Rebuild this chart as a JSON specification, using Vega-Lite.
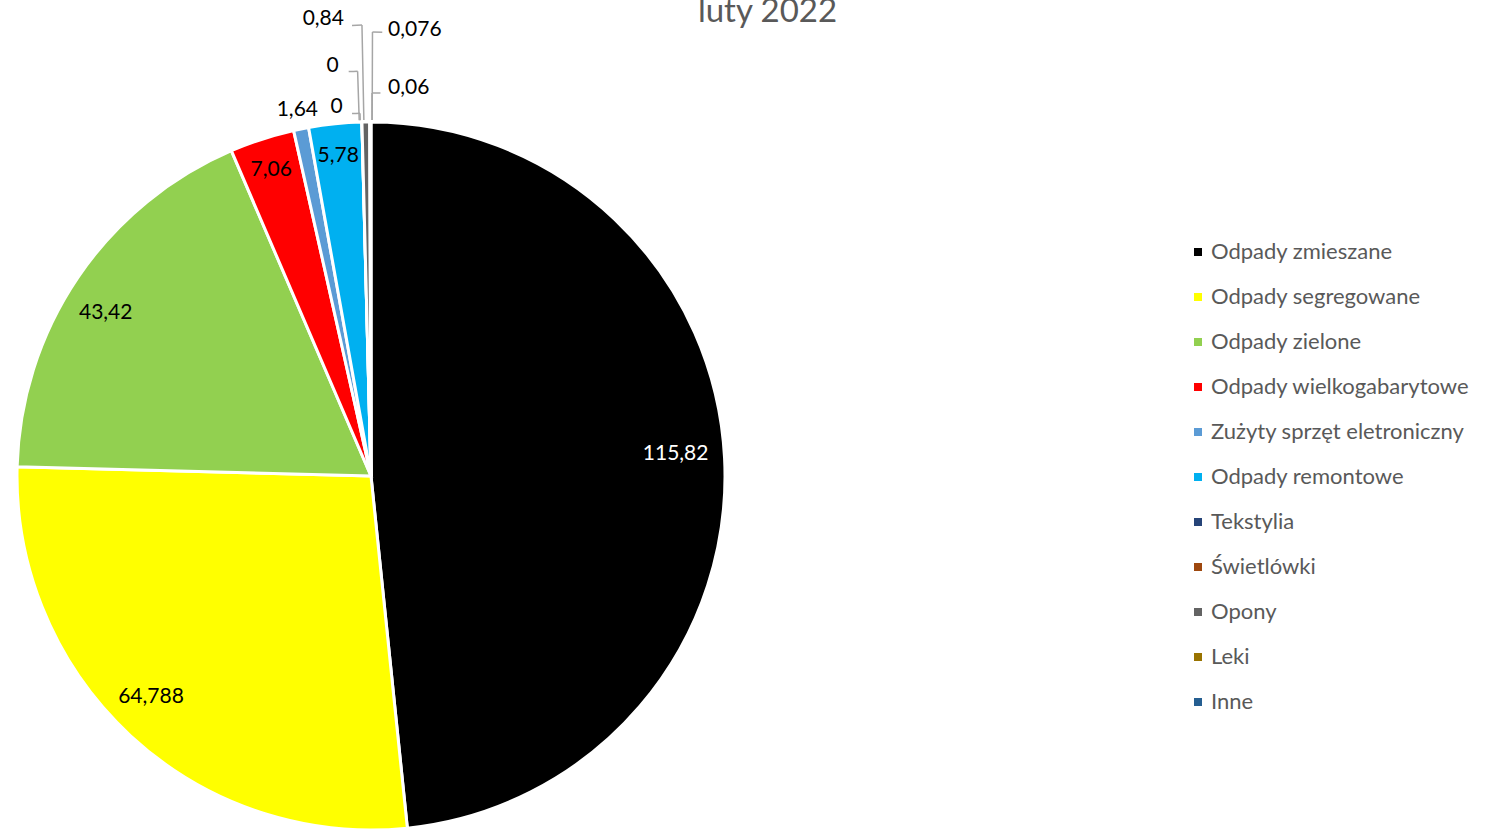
{
  "$schema": "https://vega.github.io/schema/vega-lite/v6.json",
  "width": 1495,
  "height": 832,
  "autosize": "none",
  "padding": 0,
  "background": "white",
  "config": {"view": {"stroke": null}, "font": "Lato"},
  "title": {"text": "luty 2022", "anchor": "middle", "orient": "top", "offset": -55, "baseline": "alphabetic", "dx": 20, "fontSize": 33, "fontWeight": "normal", "color": "#595959", "font": "Lato"},
  "data": {"values": [
    {"i": 1, "k": "Odpady zmieszane", "v": 115.82, "lbl": "115,82"},
    {"i": 2, "k": "Odpady segregowane", "v": 64.788, "lbl": "64,788"},
    {"i": 3, "k": "Odpady zielone", "v": 43.42, "lbl": "43,42"},
    {"i": 4, "k": "Odpady wielkogabarytowe", "v": 7.06, "lbl": "7,06"},
    {"i": 5, "k": "Zużyty sprzęt eletroniczny", "v": 1.64, "lbl": "1,64"},
    {"i": 6, "k": "Odpady remontowe", "v": 5.78, "lbl": "5,78"},
    {"i": 7, "k": "Tekstylia", "v": 0, "lbl": "0"},
    {"i": 8, "k": "Świetlówki", "v": 0, "lbl": "0"},
    {"i": 9, "k": "Opony", "v": 0.84, "lbl": "0,84"},
    {"i": 10, "k": "Leki", "v": 0.076, "lbl": "0,076"},
    {"i": 11, "k": "Inne", "v": 0.06, "lbl": "0,06"}
  ]},
  "encoding": {
    "theta": {"field": "v", "type": "quantitative", "stack": true},
    "order": {"field": "i", "type": "quantitative"}
  },
  "layer": [
    {
      "mark": {"type": "arc", "x": 371, "y": 476, "outerRadius": 354, "stroke": "white", "strokeWidth": 3},
      "encoding": {
        "color": {"field": "k", "type": "nominal", "sort": {"field": "i"},
          "scale": {"domain": ["Odpady zmieszane", "Odpady segregowane", "Odpady zielone", "Odpady wielkogabarytowe", "Zużyty sprzęt eletroniczny", "Odpady remontowe", "Tekstylia", "Świetlówki", "Opony", "Leki", "Inne"],
                    "range": ["#000000", "#FFFF00", "#92D050", "#FF0000", "#5B9BD5", "#00B0F0", "#264478", "#9E480E", "#636363", "#997300", "#255E91"]},
          "legend": {"title": null, "orient": "none", "legendX": 1187, "legendY": 241, "symbolType": "square", "symbolSize": 64, "symbolStrokeWidth": 0, "labelFontSize": 22, "labelFont": "Lato", "labelColor": "#595959", "labelOffset": 2, "rowPadding": 23, "padding": 0, "labelLimit": 400}
        }
      }
    },
    {
      "mark": {"type": "arc", "x": 371, "y": 476, "innerRadius": 356, "outerRadius": 451, "thetaOffset": 0.00555, "fill": null, "stroke": "#A6A6A6", "strokeWidth": 1.5},
      "encoding": {"strokeOpacity": {"condition": {"test": "datum.i == 7", "value": 1}, "value": 0}}
    },
    {
      "mark": {"type": "arc", "x": 371, "y": 476, "innerRadius": 356, "outerRadius": 405, "thetaOffset": -0.00747, "fill": null, "stroke": "#A6A6A6", "strokeWidth": 1.5},
      "encoding": {"strokeOpacity": {"condition": {"test": "datum.i == 7", "value": 1}, "value": 0}}
    },
    {
      "mark": {"type": "arc", "x": 371, "y": 476, "innerRadius": 356, "outerRadius": 363, "thetaOffset": -0.00468, "fill": null, "stroke": "#A6A6A6", "strokeWidth": 1.5},
      "encoding": {"strokeOpacity": {"condition": {"test": "datum.i == 7", "value": 1}, "value": 0}}
    },
    {
      "mark": {"type": "arc", "x": 371, "y": 476, "innerRadius": 356, "outerRadius": 444, "thetaOffset": 0.02893, "fill": null, "stroke": "#A6A6A6", "strokeWidth": 1.5},
      "encoding": {"strokeOpacity": {"condition": {"test": "datum.i == 7", "value": 1}, "value": 0}}
    },
    {
      "mark": {"type": "arc", "x": 371, "y": 476, "innerRadius": 356, "outerRadius": 383, "thetaOffset": 0.02823, "fill": null, "stroke": "#A6A6A6", "strokeWidth": 1.5},
      "encoding": {"strokeOpacity": {"condition": {"test": "datum.i == 7", "value": 1}, "value": 0}}
    },
    {
      "mark": {"type": "arc", "x": 371, "y": 476, "innerRadius": 451, "outerRadius": 451, "thetaOffset": -0.01649, "fill": null, "stroke": "#A6A6A6", "strokeWidth": 1.5},
      "encoding": {"strokeOpacity": {"condition": {"test": "datum.i == 9", "value": 1}, "value": 0}}
    },
    {
      "mark": {"type": "arc", "x": 371, "y": 476, "innerRadius": 405, "outerRadius": 405, "thetaOffset": -0.02951, "fill": null, "stroke": "#A6A6A6", "strokeWidth": 1.5},
      "encoding": {"strokeOpacity": {"condition": {"test": "datum.i == 9", "value": 1}, "value": 0}}
    },
    {
      "mark": {"type": "arc", "x": 371, "y": 476, "innerRadius": 363, "outerRadius": 363, "thetaOffset": -0.02672, "fill": null, "stroke": "#A6A6A6", "strokeWidth": 1.5},
      "encoding": {"strokeOpacity": {"condition": {"test": "datum.i == 9", "value": 1}, "value": 0}}
    },
    {
      "mark": {"type": "arc", "x": 371, "y": 476, "innerRadius": 444, "outerRadius": 444, "thetaOffset": 0.02893, "fill": null, "stroke": "#A6A6A6", "strokeWidth": 1.5},
      "encoding": {"strokeOpacity": {"condition": {"test": "datum.i == 9", "value": 1}, "value": 0}}
    },
    {
      "mark": {"type": "arc", "x": 371, "y": 476, "innerRadius": 383, "outerRadius": 383, "thetaOffset": 0.02823, "fill": null, "stroke": "#A6A6A6", "strokeWidth": 1.5},
      "encoding": {"strokeOpacity": {"condition": {"test": "datum.i == 9", "value": 1}, "value": 0}}
    },
    {
      "mark": {"type": "text", "x": 371, "y": 476, "radius": 305, "dy": -6, "fontSize": 21, "color": "white"},
      "encoding": {"text": {"condition": {"test": "datum.i == 1", "field": "lbl"}, "value": ""}}
    },
    {
      "mark": {"type": "text", "x": 371, "y": 476, "radius": 312, "dx": -8, "dy": -8, "fontSize": 21, "color": "black"},
      "encoding": {"text": {"condition": {"test": "datum.i == 2", "field": "lbl"}, "value": ""}}
    },
    {
      "mark": {"type": "text", "x": 371, "y": 476, "radius": 312, "dx": -7, "dy": 12, "fontSize": 21, "color": "black"},
      "encoding": {"text": {"condition": {"test": "datum.i == 3", "field": "lbl"}, "value": ""}}
    },
    {
      "mark": {"type": "text", "x": 371, "y": 476, "radius": 324, "dy": 2, "fontSize": 21, "color": "black"},
      "encoding": {"text": {"condition": {"test": "datum.i == 4 || datum.i == 6", "field": "lbl"}, "value": ""}}
    },
    {
      "mark": {"type": "text", "x": 371, "y": 476, "radius": 373, "fontSize": 21, "color": "black"},
      "encoding": {"text": {"condition": {"test": "datum.i == 5", "field": "lbl"}, "value": ""}}
    },
    {
      "mark": {"type": "text", "x": 371, "y": 476, "radius": 369, "dx": -25, "fontSize": 21, "color": "black"},
      "encoding": {"text": {"condition": {"test": "datum.i == 7", "field": "lbl"}, "value": ""}}
    },
    {
      "mark": {"type": "text", "x": 371, "y": 476, "radius": 410, "dx": -28, "fontSize": 21, "color": "black"},
      "encoding": {"text": {"condition": {"test": "datum.i == 8", "field": "lbl"}, "value": ""}}
    },
    {
      "mark": {"type": "text", "x": 371, "y": 476, "radius": 457, "dx": -41, "fontSize": 21, "color": "black"},
      "encoding": {"text": {"condition": {"test": "datum.i == 9", "field": "lbl"}, "value": ""}}
    },
    {
      "mark": {"type": "text", "x": 371, "y": 476, "radius": 446, "dx": 45, "fontSize": 21, "color": "black"},
      "encoding": {"text": {"condition": {"test": "datum.i == 10", "field": "lbl"}, "value": ""}}
    },
    {
      "mark": {"type": "text", "x": 371, "y": 476, "radius": 388, "dx": 38, "fontSize": 21, "color": "black"},
      "encoding": {"text": {"condition": {"test": "datum.i == 11", "field": "lbl"}, "value": ""}}
    }
  ]
}
